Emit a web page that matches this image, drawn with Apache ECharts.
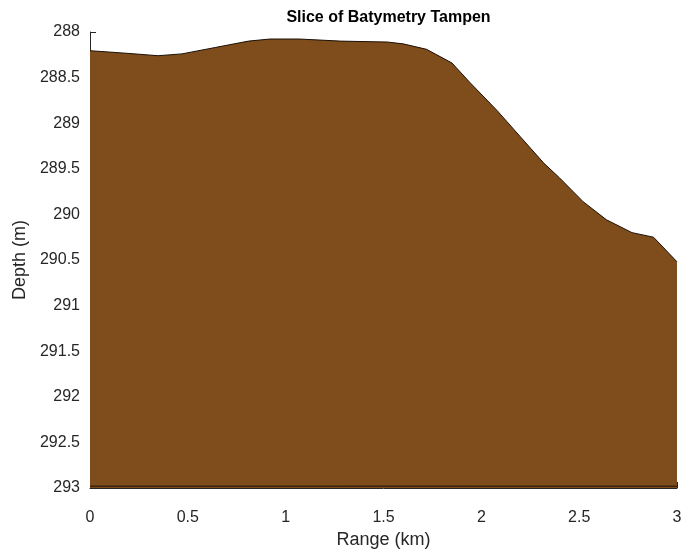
<!DOCTYPE html>
<html>
<head>
<meta charset="utf-8">
<script src="https://cdn.jsdelivr.net/npm/echarts@6/dist/echarts.min.js"></script>
<style>
  html, body { margin: 0; padding: 0; background: #fff; }
  #main { width: 681px; height: 552px; }
</style>
</head>
<body>
<div id="main"></div>
<script>
// profile
var rangeKm = [0, 0.204, 0.348, 0.47, 0.64, 0.81, 0.92, 1.07, 1.28, 1.52, 1.6, 1.72, 1.85, 1.94, 2.08, 2.2, 2.32, 2.4, 2.52, 2.64, 2.77, 2.88, 3.0];
var depthM = [288.205, 288.236, 288.26, 288.24, 288.17, 288.1, 288.077, 288.077, 288.1, 288.11, 288.13, 288.19, 288.34, 288.55, 288.86, 289.15, 289.44, 289.6, 289.86, 290.06, 290.2, 290.25, 290.52];

void (function() {
  var chart = echarts.init(document.getElementById("main"));

  var pts = [];
  for (var i = 0; i < rangeKm.length; i++) {
    pts.push([rangeKm[i], depthM[i]]);
  }

  var txt = "#262626";
  var font = "Liberation Sans, Arial, sans-serif";

  var option = {
    animation: false,
    backgroundColor: "#fff",
    title: {
      text: "Slice of Batymetry Tampen",
      left: 383.5,
      textAlign: "center",
      top: 5,
      textStyle: { fontSize: 16, fontWeight: "bold", color: "#000", fontFamily: font }
    },
    grid: { left: 90, right: 4, top: 32, bottom: 64, outerBoundsMode: "none" },
    xAxis: {
      type: "value",
      min: 0,
      max: 3,
      interval: 0.5,
      name: "Range (km)",
      nameLocation: "middle",
      nameGap: 42,
      nameTextStyle: { fontSize: 18, color: txt, fontFamily: font },
      axisLine: { lineStyle: { color: txt, width: 1 } },
      axisTick: { inside: true, length: 6, lineStyle: { color: txt } },
      axisLabel: { fontSize: 16, color: txt, fontFamily: font, margin: 22 },
      splitLine: { show: false }
    },
    yAxis: {
      type: "value",
      inverse: true,
      min: 288,
      max: 293,
      interval: 0.5,
      name: "Depth (m)",
      nameLocation: "middle",
      nameGap: 56,
      nameTextStyle: { fontSize: 18, color: txt, fontFamily: font },
      axisLine: { show: true, lineStyle: { color: txt, width: 1 } },
      axisTick: { show: true, inside: true, length: 6, lineStyle: { color: txt } },
      axisLabel: { fontSize: 16, color: txt, fontFamily: font, margin: 10 },
      splitLine: { show: false }
    },
    series: [
      {
        type: "line",
        data: pts,
        symbol: "none",
        lineStyle: { color: "#1a1008", width: 1 },
        areaStyle: { color: "#7F4D1B", opacity: 1, origin: "end" },
        z: 1
      },
      {
        // bottom edge of the patch
        type: "line",
        data: [[0, 292.98], [3, 292.98]],
        symbol: "none",
        lineStyle: { color: "#1a1008", width: 1 },
        z: 2
      }
    ]
  };

  chart.setOption(option);
})();
</script>
</body>
</html>
